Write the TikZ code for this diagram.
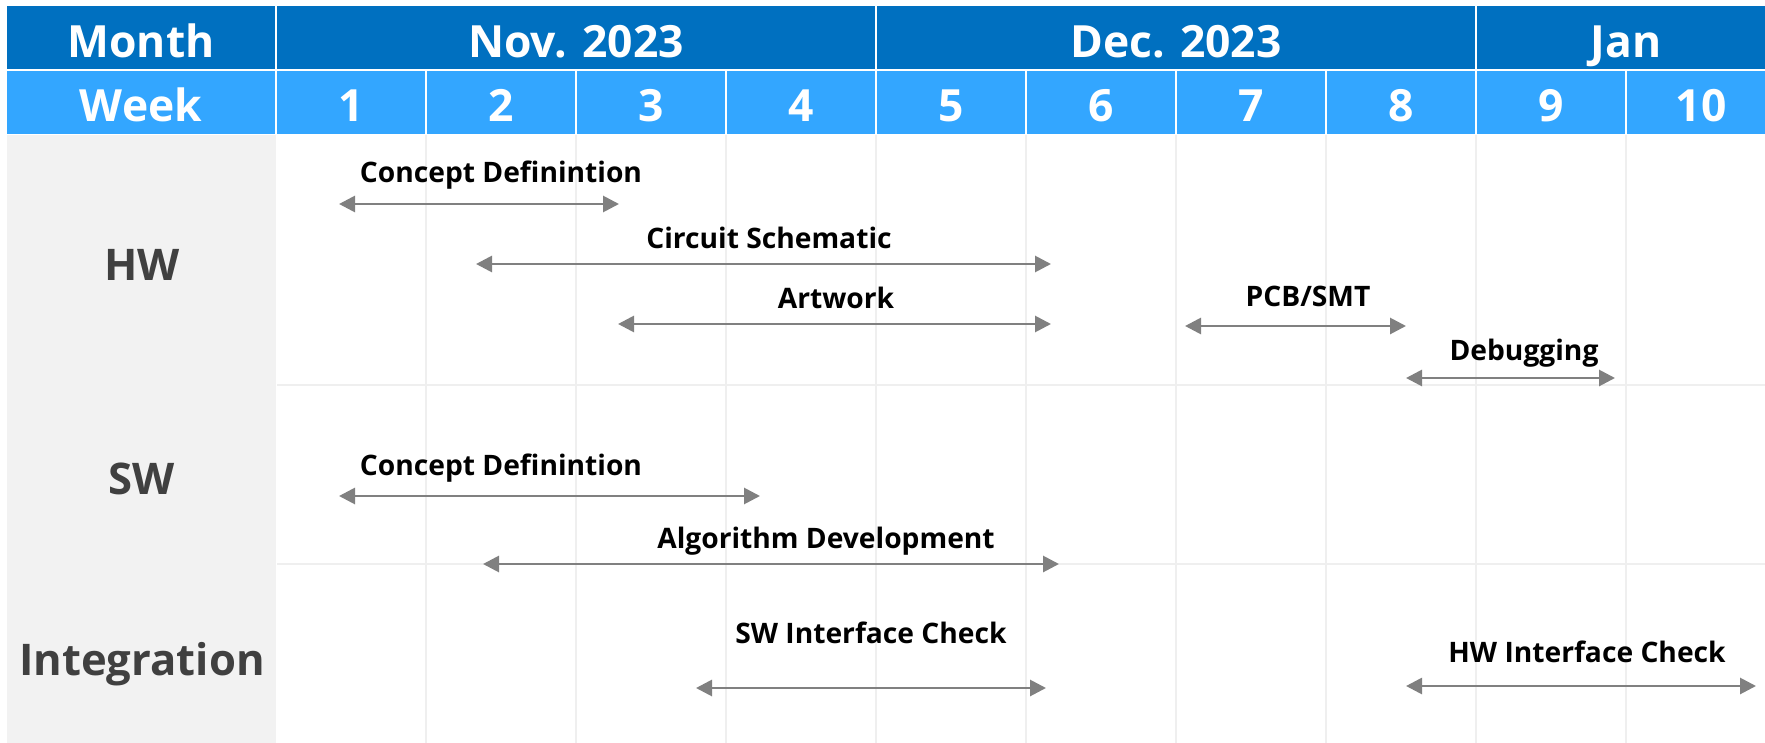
\documentclass[tikz,border=0pt]{standalone}
\usepackage{fontspec}
\setmainfont{Open Sans}
\usetikzlibrary{arrows.meta}

\definecolor{monthblue}{RGB}{0,112,192}
\definecolor{weekblue}{RGB}{51,166,255}
\definecolor{labelgrey}{RGB}{242,242,242}
\definecolor{gridgrey}{RGB}{239,239,239}
\definecolor{spangrey}{RGB}{128,128,128}
\definecolor{rowtext}{RGB}{64,64,64}

\begin{document}
\begin{tikzpicture}[x=0.5pt,y=-0.5pt,
  headtext/.style={font=\bfseries\fontsize{22.2pt}{22.2pt}\selectfont, text=white, anchor=base, inner sep=0pt},
  rowtitle/.style={font=\bfseries\fontsize{21.8pt}{21.8pt}\selectfont, text=rowtext, anchor=base, inner sep=0pt},
  tasklabel/.style={font=\bfseries\fontsize{14.1pt}{14.1pt}\selectfont, text=black, anchor=base, inner sep=0pt},
  span/.style={draw=spangrey, line width=1.4pt,
    {Triangle[length=8pt,width=8pt]}-{Triangle[length=8pt,width=8pt]}},
  gridline/.style={draw=gridgrey, line width=1pt}]
\useasboundingbox (0,0) rectangle (1765,743);
\clip (0,0) rectangle (1765,743);
\fill[white] (0,0) rectangle (1765,743);

% month header row
\fill[monthblue] (7,6) rectangle (275,69);
\fill[monthblue] (277,6) rectangle (875,69);
\fill[monthblue] (877,6) rectangle (1475,69);
\fill[monthblue] (1477,6) rectangle (1776,69);

% week header row
\fill[weekblue] (7,71) rectangle (275,134);
\foreach \i in {0,...,9}
  \fill[weekblue] ({277+150*\i},71) rectangle ({275+150*(\i+1)},134);

% body: category column and grid
\fill[labelgrey] (7,135) rectangle (276,743);
\foreach \x in {426,576,726,876,1026,1176,1326,1476,1626}
  \draw[gridline] (\x,135) -- (\x,743);
\draw[gridline] (277,385) -- (1765,385);
\draw[gridline] (277,564) -- (1765,564);

% header texts
\node[headtext] (month) at (141,58) {Month};
\node[headtext] (nov) at (576,58) {Nov. 2023};
\node[headtext] (dec) at (1176,58) {Dec. 2023};
\node[headtext] (jan) at (1626,58) {Jan};
\node[headtext] (week) at (141,122) {Week};
\foreach \i in {1,...,10}
  \node[headtext] (w\i) at ({201+150*\i},122) {\i};

% category titles
\node[rowtitle] (hw) at (142,280) {HW};
\node[rowtitle] (sw) at (142,494) {SW};
\node[rowtitle] (integ) at (142,675) {Integration};

% task span end points
\coordinate (hwcdL) at (339,204);   \coordinate (hwcdR) at (619,204);
\coordinate (csL) at (476,264);     \coordinate (csR) at (1051,264);
\coordinate (awL) at (618,324);     \coordinate (awR) at (1051,324);
\coordinate (pcbL) at (1185,326);   \coordinate (pcbR) at (1406,326);
\coordinate (dbgL) at (1406,378);   \coordinate (dbgR) at (1615,378);
\coordinate (swcdL) at (339,496);   \coordinate (swcdR) at (760,496);
\coordinate (algL) at (483,564);    \coordinate (algR) at (1059,564);
\coordinate (swicL) at (696,688);   \coordinate (swicR) at (1046,688);
\coordinate (hwicL) at (1406,686);  \coordinate (hwicR) at (1756,686);

% task labels
\node[tasklabel] (hwcd) at (501,183) {Concept Definintion};
\node[tasklabel] (cs) at (769,249) {Circuit Schematic};
\node[tasklabel] (aw) at (836,308) {Artwork};
\node[tasklabel] (pcb) at (1308,306) {PCB/SMT};
\node[tasklabel] (dbg) at (1524,360) {Debugging};
\node[tasklabel] (swcd) at (501,475) {Concept Definintion};
\node[tasklabel] (alg) at (826,548) {Algorithm Development};
\node[tasklabel] (swic) at (871,643) {SW Interface Check};
\node[tasklabel] (hwic) at (1587,662) {HW Interface Check};

% task spans
\draw[span] (hwcdL) -- (hwcdR);
\draw[span] (csL) -- (csR);
\draw[span] (awL) -- (awR);
\draw[span] (pcbL) -- (pcbR);
\draw[span] (dbgL) -- (dbgR);
\draw[span] (swcdL) -- (swcdR);
\draw[span] (algL) -- (algR);
\draw[span] (swicL) -- (swicR);
\draw[span] (hwicL) -- (hwicR);
\end{tikzpicture}
\end{document}
